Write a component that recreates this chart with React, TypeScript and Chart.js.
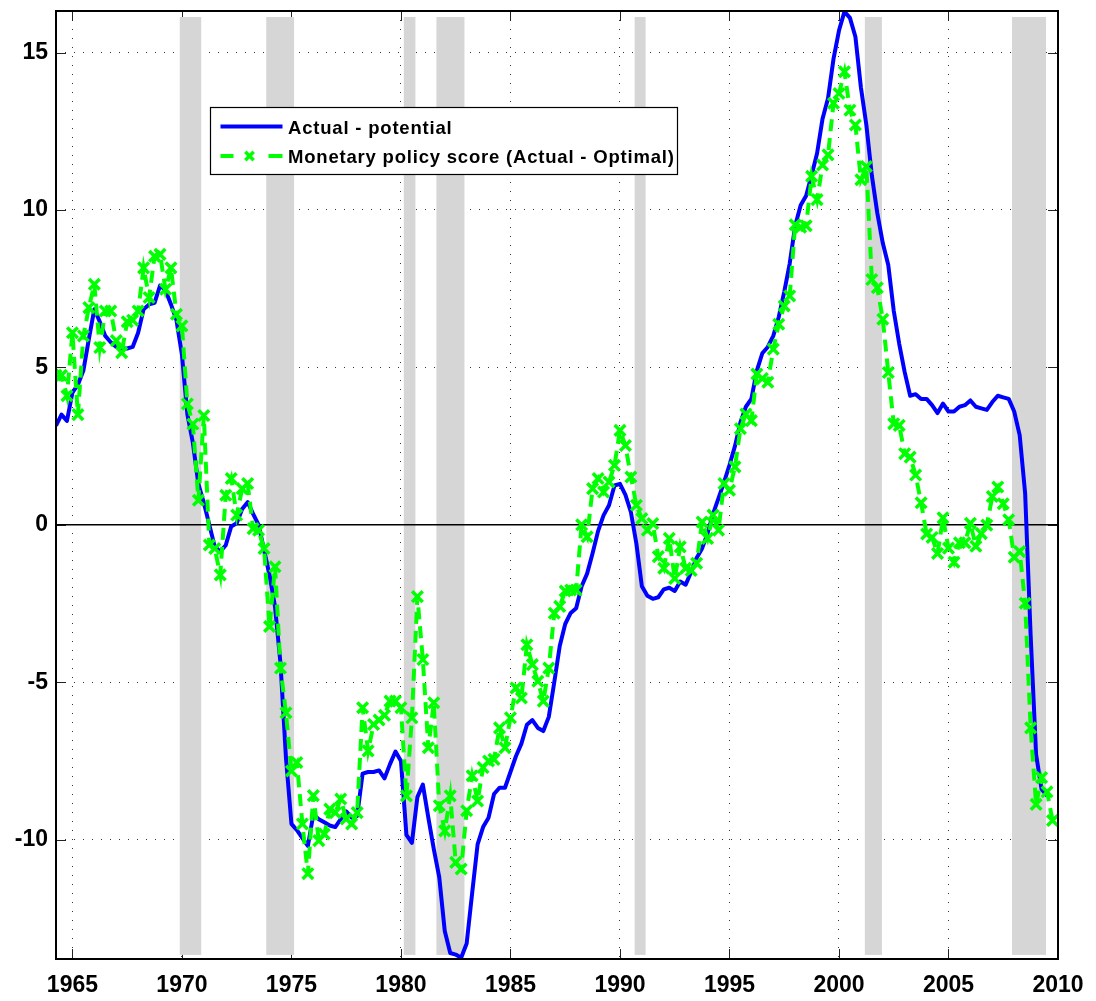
import { useEffect, useRef } from "react";
import { Chart, registerables } from "chart.js";

Chart.register(...registerables);

// ---------- data ----------
const START_QUARTER = 1964.25; // first observation (quarterly data)

const ACTUAL_MINUS_POTENTIAL = [
  3.15, 3.5, 3.3,
  4.2, 4.45, 4.9, 5.9,
  6.85, 6.45, 6.0, 5.8,
  5.65, 5.6, 5.6, 5.65,
  6.1, 6.85, 7.0, 7.05,
  7.6, 7.45, 7.0, 6.5,
  5.4, 3.5, 2.6, 1.3,
  0.7, 0.0, -0.7, -0.85,
  -0.65, -0.05, 0.05, 0.5,
  0.72, 0.35, 0.0, -0.8,
  -1.6, -2.6, -4.4, -7.4,
  -9.5, -9.7, -9.95, -10.2,
  -9.2, -9.35, -9.45, -9.55,
  -9.6, -9.35, -9.1, -9.3,
  -9.25, -7.9, -7.85, -7.85,
  -7.8, -8.05, -7.6, -7.2,
  -7.5, -9.85, -10.1, -8.65,
  -8.25, -9.3, -10.3, -11.2,
  -12.9, -13.6, -13.65, -13.75,
  -13.3, -11.7, -10.15, -9.6,
  -9.3, -8.55, -8.35, -8.35,
  -7.85, -7.35, -6.95, -6.35,
  -6.2, -6.45, -6.55, -6.1,
  -5.0, -3.85, -3.15, -2.8,
  -2.65, -1.95, -1.55, -0.9,
  -0.2, 0.3, 0.62, 1.25,
  1.3, 0.95, 0.4, -0.6,
  -1.95, -2.25, -2.35, -2.3,
  -2.05, -2.0, -2.1, -1.8,
  -1.9, -1.5, -1.05, -0.75,
  -0.27, 0.35, 0.85, 1.35,
  1.9, 2.5, 3.25, 3.75,
  4.0, 4.9, 5.45, 5.65,
  6.0, 6.6, 7.4, 8.3,
  9.5, 10.15, 10.45, 11.1,
  11.8, 12.9, 13.55, 14.8,
  15.7, 16.3, 16.1, 15.5,
  13.9, 12.7, 11.1, 9.9,
  8.95, 8.25, 6.8, 5.75,
  4.85, 4.1, 4.15, 4.0,
  4.0, 3.8, 3.55, 3.85,
  3.6, 3.6, 3.75, 3.8,
  3.95, 3.75, 3.7, 3.65,
  3.9, 4.1, 4.05, 4.0,
  3.6, 2.85, 1.0, -3.5,
  -7.3, -8.4, -8.6,
];

const POLICY_SCORE = [
  4.75, 4.75, 4.1,
  6.1, 3.5, 6.0, 6.9,
  7.64, 5.63, 6.79, 6.79,
  5.85, 5.47, 6.45, 6.5,
  6.79, 8.16, 7.22, 8.53,
  8.59, 7.48, 8.16, 6.69,
  6.32, 3.84, 3.2, 0.78,
  3.47, -0.64, -0.75, -1.59,
  0.94, 1.47, 0.31, 1.15,
  1.31, -0.12, -0.17, -0.75,
  -3.23, -1.33, -4.55, -5.97,
  -7.82, -7.55, -9.5, -11.08,
  -8.6, -10.03, -9.82, -9.03,
  -9.14, -8.71, -9.34, -9.5,
  -9.14, -5.81, -7.18, -6.34,
  -6.2, -6.05, -5.6, -5.6,
  -5.81, -8.61, -6.13, -2.28,
  -4.28, -7.08, -5.65, -8.92,
  -9.72, -8.61, -10.72, -10.93,
  -9.08, -7.97, -8.77, -7.71,
  -7.5, -7.45, -6.45, -7.08,
  -6.13, -5.18, -5.5, -3.81,
  -4.44, -4.97, -5.6, -4.55,
  -2.81, -2.59, -2.1, -2.07,
  -2.07, 0.0, -0.38, 1.15,
  1.47, 1.04, 1.36, 1.89,
  3.0, 2.52, 1.52, 0.62,
  0.2, -0.17, 0.04, -1.01,
  -1.38, -0.43, -1.7, -0.7,
  -1.38, -1.45, -1.22, 0.09,
  -0.43, 0.31, -0.17, 1.31,
  1.1, 1.84, 3.05, 3.52,
  3.31, 4.79, 4.65, 4.53,
  5.58, 6.37, 6.95, 7.27,
  9.53, 9.45, 9.5, 11.07,
  10.33, 11.43, 11.75, 13.39,
  13.7, 14.39, 13.17, 12.7,
  10.96, 11.38, 7.79, 7.53,
  6.53, 4.84, 3.21, 3.16,
  2.26, 2.15, 1.58, 0.7,
  -0.29, -0.4, -0.91, 0.22,
  -0.74, -1.19, -0.57, -0.57,
  0.05, -0.68, -0.28, -0.01,
  0.9, 1.2, 0.67, 0.16,
  -1.03, -0.85, -2.49, -6.45,
  -8.88, -8.03, -8.48, -9.39,
];

const SERIES_LABELS = ["Actual - potential", "Monetary policy score (Actual - Optimal)"];

const RECESSION_START = [1969.9, 1973.85, 1980.13, 1981.62, 1990.67, 2001.18, 2007.9];
const RECESSION_END = [1970.88, 1975.12, 1980.66, 1982.9, 1991.17, 2001.96, 2009.45];
const RECESSION_TOP = 16.13;
const RECESSION_BOTTOM = -13.66;

const X_TICKS = [1965, 1970, 1975, 1980, 1985, 1990, 1995, 2000, 2005, 2010];
const Y_TICKS = [-10, -5, 0, 5, 10, 15];
const X_MIN = 1964.25;
const X_MAX = 2010;
const Y_MIN = -13.79;
const Y_MAX = 16.32;

// ---------- styles ----------
const BLUE = "#0000ff";
const GREEN = "#00ff00";
const FONT_FAMILY = "'Liberation Sans', Arial, Helvetica, sans-serif";

const framePlugin = {
  id: "matlabFrame",
  beforeDatasetsDraw(chart: any) {
    const { ctx, chartArea: a, scales } = chart;
    const xs = scales.x;
    const ys = scales.y;
    ctx.save();
    // inward tick marks on all four sides
    ctx.strokeStyle = "#222";
    ctx.lineWidth = 1;
    ctx.setLineDash([]);
    const tickLen = 10;
    ctx.beginPath();
    X_TICKS.forEach((v) => {
      const px = Math.round(xs.getPixelForValue(v)) + 0.5;
      ctx.moveTo(px, a.bottom);
      ctx.lineTo(px, a.bottom - tickLen);
      ctx.moveTo(px, a.top);
      ctx.lineTo(px, a.top + tickLen);
    });
    Y_TICKS.forEach((v) => {
      const py = Math.round(ys.getPixelForValue(v)) + 0.5;
      ctx.moveTo(a.left, py);
      ctx.lineTo(a.left + tickLen, py);
      ctx.moveTo(a.right, py);
      ctx.lineTo(a.right - tickLen, py);
    });
    ctx.stroke();

    // recession shading
    ctx.fillStyle = "#d6d6d6";
    const yTop = ys.getPixelForValue(RECESSION_TOP);
    const yBot = ys.getPixelForValue(RECESSION_BOTTOM);
    RECESSION_START.forEach((s, i) => {
      const x1 = xs.getPixelForValue(s);
      const x2 = xs.getPixelForValue(RECESSION_END[i]);
      ctx.fillRect(x1, yTop, x2 - x1, yBot - yTop);
    });

    // zero line
    const y0 = ys.getPixelForValue(0);
    ctx.strokeStyle = "#000";
    ctx.lineWidth = 1.5;
    ctx.beginPath();
    ctx.moveTo(a.left, y0);
    ctx.lineTo(a.right, y0);
    ctx.stroke();
    ctx.restore();
  },
  afterDraw(chart: any) {
    const { ctx, chartArea: a } = chart;
    ctx.save();
    // axes box
    ctx.strokeStyle = "#000";
    ctx.lineWidth = 2;
    ctx.setLineDash([]);
    ctx.strokeRect(a.left, a.top, a.right - a.left, a.bottom - a.top);

    // legend
    const lx = a.left + 154.5;
    const ly = a.top + 96.5;
    const lw = 467;
    const lh = 67;
    ctx.fillStyle = "#fff";
    ctx.fillRect(lx, ly, lw, lh);
    ctx.strokeStyle = "#000";
    ctx.lineWidth = 1.2;
    ctx.strokeRect(lx, ly, lw, lh);

    const row1 = ly + 19;
    const row2 = ly + 48.5;
    const sx1 = lx + 10;
    const sx2 = lx + 72;
    // blue sample
    ctx.strokeStyle = BLUE;
    ctx.lineWidth = 4;
    ctx.beginPath();
    ctx.moveTo(sx1, row1);
    ctx.lineTo(sx2, row1);
    ctx.stroke();
    // green sample: dash - x - dash
    ctx.strokeStyle = GREEN;
    ctx.lineWidth = 4;
    ctx.beginPath();
    ctx.moveTo(sx1, row2);
    ctx.lineTo(sx1 + 13, row2);
    ctx.moveTo(sx2 - 14, row2);
    ctx.lineTo(sx2, row2);
    ctx.stroke();
    const cx = lx + 39;
    const r = 4.2;
    ctx.lineWidth = 3.5;
    ctx.beginPath();
    ctx.moveTo(cx - r, row2 - r);
    ctx.lineTo(cx + r, row2 + r);
    ctx.moveTo(cx - r, row2 + r);
    ctx.lineTo(cx + r, row2 - r);
    ctx.stroke();

    ctx.fillStyle = "#000";
    ctx.font = `bold 18.5px ${FONT_FAMILY}`;
    ctx.textBaseline = "alphabetic";
    ctx.textAlign = "left";
    try {
      (ctx as any).letterSpacing = "0.8px";
    } catch (e) {}
    const labels = chart.data.datasets.map((d: any) => d.label);
    ctx.fillText(labels[0], lx + 77.5, row1 + 7.5);
    ctx.fillText(labels[1], lx + 77.5, row2 + 6.5);
    ctx.restore();
  },
};

export default function App() {
  const canvasRef = useRef<HTMLCanvasElement | null>(null);

  useEffect(() => {
    const canvas = canvasRef.current;
    if (!canvas) return;

    const actualPts = ACTUAL_MINUS_POTENTIAL.map((v, i) => ({ x: START_QUARTER + i / 4, y: v }));
    const scorePts = POLICY_SCORE.map((v, i) => ({ x: START_QUARTER + i / 4, y: v }));

    const tickFont = { family: FONT_FAMILY, size: 23, weight: "bold" as const };

    const chart = new Chart(canvas, {
      type: "line",
      data: {
        datasets: [
          {
            label: SERIES_LABELS[0],
            data: actualPts,
            borderColor: BLUE,
            backgroundColor: BLUE,
            borderWidth: 4,
            pointRadius: 0,
            tension: 0,
            borderJoinStyle: "round",
            order: 2,
          },
          {
            label: SERIES_LABELS[1],
            data: scorePts,
            borderColor: GREEN,
            backgroundColor: GREEN,
            borderWidth: 4,
            borderDash: [12, 7],
            pointStyle: "crossRot",
            pointRadius: 7.5,
            pointBorderWidth: 3.5,
            pointBorderColor: GREEN,
            pointBackgroundColor: GREEN,
            tension: 0,
            order: 1,
          },
        ],
      },
      options: {
        responsive: false,
        animation: false,
        events: [],
        layout: { padding: { top: 7, right: 38, left: 0, bottom: 0 } },
        plugins: {
          legend: { display: false },
          tooltip: { enabled: false },
          title: { display: false },
        },
        scales: {
          x: {
            type: "linear",
            min: X_MIN,
            max: X_MAX,
            afterBuildTicks: (scale: any) => {
              scale.ticks = X_TICKS.map((v) => ({ value: v }));
            },
            afterFit: (scale: any) => {
              scale.height = 42;
              scale.paddingLeft = 0;
              scale.paddingRight = 0;
            },
            grid: { color: "#333", lineWidth: 1, drawTicks: false },
            border: { display: false, dash: [1, 8] },
            ticks: {
              font: tickFont,
              color: "#000",
              padding: 13,
              maxRotation: 0,
              autoSkip: false,
              callback: (v: any) => String(v),
            },
          },
          y: {
            type: "linear",
            min: Y_MIN,
            max: Y_MAX,
            afterBuildTicks: (scale: any) => {
              scale.ticks = Y_TICKS.map((v) => ({ value: v }));
            },
            afterFit: (scale: any) => {
              scale.width = 56;
              scale.paddingTop = 0;
              scale.paddingBottom = 0;
            },
            grid: { color: "#333", lineWidth: 1, drawTicks: false },
            border: { display: false, dash: [1, 8] },
            ticks: {
              font: tickFont,
              color: "#000",
              padding: 8,
              autoSkip: false,
              callback: (v: any) => String(v),
            },
          },
        },
      },
      plugins: [framePlugin],
    });

    return () => {
      chart.destroy();
    };
  }, []);

  return (
    <div style={{ position: "absolute", left: 0, top: 0, width: 1096, height: 1001, background: "#fff" }}>
      <canvas ref={canvasRef} width={1096} height={1001} style={{ width: 1096, height: 1001, display: "block" }} />
    </div>
  );
}
